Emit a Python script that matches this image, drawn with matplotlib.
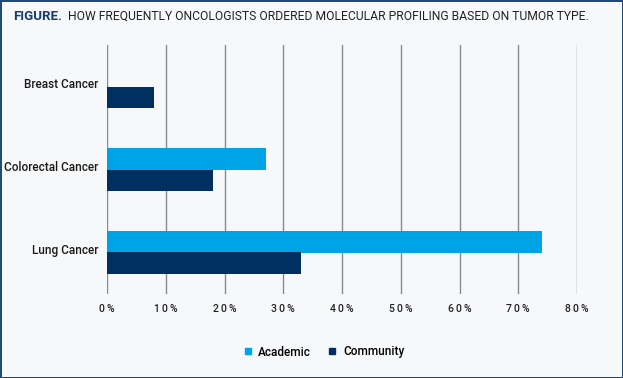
import numpy as np
import matplotlib.pyplot as plt
from matplotlib.lines import Line2D

plt.rcParams['font.family'] = ['Roboto', 'DejaVu Sans']

cancers = ['Breast Cancer', 'Colorectal Cancer', 'Lung Cancer']
academic = [0, 27, 74]
community = [8, 18, 33]
xticks = [0, 10, 20, 30, 40, 50, 60, 70, 80]

c_acad = '#00a3e6'
c_comm = '#00305f'
bg = '#f7f8fa'

fig = plt.figure(figsize=(6.23, 3.78), dpi=100)
fig.patch.set_facecolor(bg)
fig.patch.set_edgecolor('#1e4b7a')
fig.patch.set_linewidth(2)

ax = fig.add_axes([107 / 623, 1 - 294 / 378, 470 / 623, 249 / 378])
ax.set_facecolor(bg)

y = np.arange(len(cancers))
h = 0.265
ax.barh(y - h / 2, academic, height=h, color=c_acad, zorder=3, label='Academic')
ax.barh(y + h / 2, community, height=h, color=c_comm, zorder=3, label='Community')

ax.set_ylim(2.5, -0.5)
ax.set_xlim(0, 80)
# labels sit a little above the bar boundary
ax.set_yticks(y - 0.04)
ax.set_yticklabels(cancers, fontsize=8.5, color='#1a1a1a', fontweight='medium')
ax.set_xticks(xticks)
# letter-spaced tick labels, like the original
ax.set_xticklabels(['\u2009'.join(f'{t}%') for t in xticks], fontsize=7.5,
                   color='#222222', fontweight='medium')
ax.tick_params(axis='y', length=0, pad=6)
ax.tick_params(axis='x', length=0, pad=7)
ax.grid(axis='x', color='#8a8a8a', linewidth=1, zorder=1)
for s in ax.spines.values():
    s.set_visible(False)

fig.text(13 / 623, 1 - 16 / 378, 'FIGURE.', fontsize=9.5, fontweight='bold',
         color='#1a3c6e', va='center', ha='left')
fig.text(68 / 623, 1 - 16 / 378, 'HOW FREQUENTLY ONCOLOGISTS ORDERED MOLECULAR PROFILING BASED ON TUMOR TYPE.',
         fontsize=8.7, color='#222222', va='center', ha='left')

handles = [Line2D([], [], marker='s', linestyle='none', markersize=5, color=c_acad),
           Line2D([], [], marker='s', linestyle='none', markersize=5, color=c_comm)]
fig.legend(handles, ['Academic', 'Community'], loc='center', ncol=2,
           bbox_to_anchor=(323 / 623, 1 - 352 / 378), frameon=False,
           prop={'size': 8.5, 'weight': 'medium'},
           handletextpad=0.4, columnspacing=1.3, handlelength=1)

fig.savefig('out.png', dpi=100, facecolor=bg, edgecolor='#1e4b7a')
